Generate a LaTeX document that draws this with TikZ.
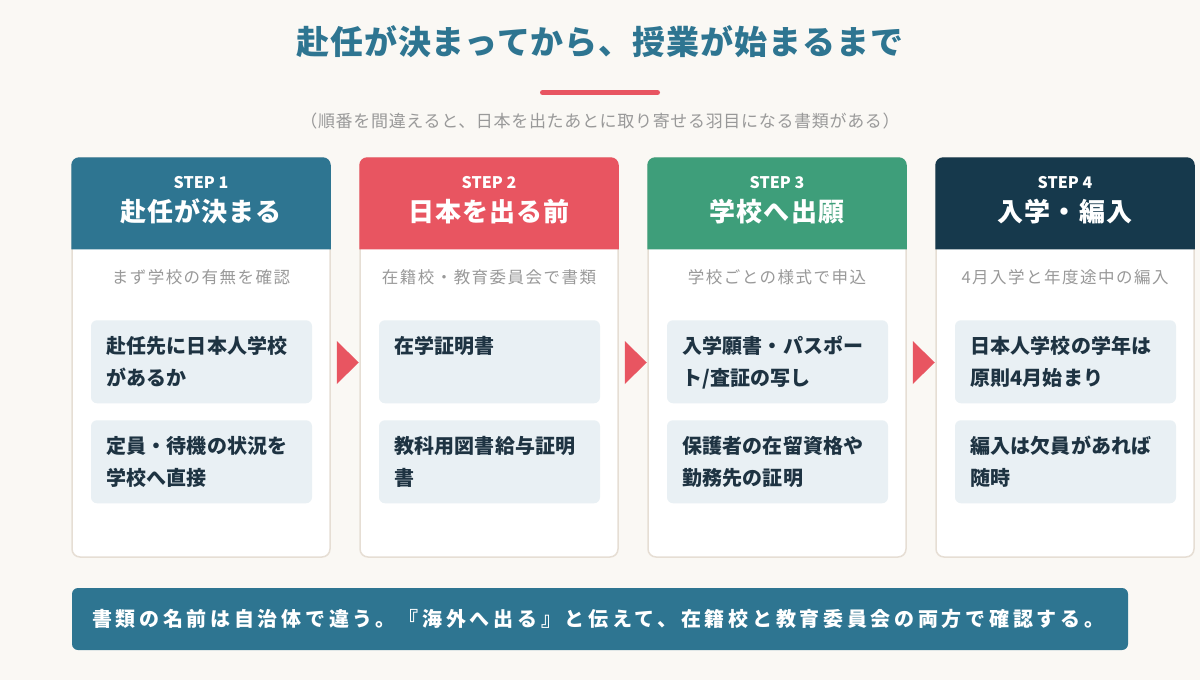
\documentclass[tikz,border=0pt]{standalone}
\usepackage{fontspec}
\newfontfamily\jpfont{Noto Sans CJK JP}
\usetikzlibrary{calc}
\definecolor{bgcream}{HTML}{FAF8F4}
\definecolor{stepteal}{HTML}{2E7591}
\definecolor{stepred}{HTML}{E85561}
\definecolor{stepgreen}{HTML}{3E9E7A}
\definecolor{stepnavy}{HTML}{16394C}
\definecolor{cardline}{HTML}{E6DED4}
\definecolor{itemfill}{HTML}{E9F0F4}
\definecolor{itemink}{HTML}{1E3342}
\definecolor{softgray}{HTML}{999999}

\begin{document}
\begin{tikzpicture}[x=1pt, y=-1pt,
  maintitle/.style={text=stepteal,
               font=\jpfont\bfseries\fontsize{33pt}{40pt}\selectfont\addfontfeature{LetterSpace=3}},
  subtitle/.style={text=softgray,
               font=\jpfont\fontsize{17pt}{20pt}\selectfont\addfontfeature{LetterSpace=4}},
  card/.style={draw=cardline, line width=1.5pt, rounded corners=8pt, fill=white,
               minimum width=258pt, minimum height=399pt, inner sep=0pt},
  steplabel/.style={text=white, font=\jpfont\bfseries\fontsize{16pt}{18pt}\selectfont},
  steptitle/.style={text=white,
               font=\jpfont\bfseries\fontsize{26pt}{30pt}\selectfont\addfontfeature{LetterSpace=4}},
  stepdesc/.style={text=softgray,
               font=\jpfont\fontsize{16.5pt}{20pt}\selectfont\addfontfeature{LetterSpace=9}},
  itembox/.style={fill=itemfill, rounded corners=6pt, minimum width=221pt,
               minimum height=83pt, inner sep=0pt},
  itemtext/.style={text=itemink, align=left, anchor=north west, inner sep=0pt,
               font=\jpfont\bfseries\fontsize{20pt}{32pt}\selectfont\addfontfeature{LetterSpace=1}},
  nextarrow/.style={fill=stepred},
  banner/.style={fill=stepteal, rounded corners=6pt, minimum width=1056pt,
               minimum height=62pt, text width=1016pt, inner xsep=20pt, align=left, text=white,
               font=\jpfont\bfseries\fontsize{20pt}{24pt}\selectfont\addfontfeature{LetterSpace=18.5}},
]

\useasboundingbox (0,0) rectangle (1200,680);
\fill[bgcream] (0,0) rectangle (1200,680);

\node[maintitle] (title) at (600,42) {赴任が決まってから、授業が始まるまで};
\draw[stepred, line width=5pt, line cap=round] (542.5,92.5) -- (657.5,92.5);
\node[subtitle] (sub) at (600,121)
  {（順番を間違えると、日本を出たあとに取り寄せる羽目になる書類がある）};

% STEP 1
\node[card] (c1) at (201,357.5) {};
\fill[stepteal] ($(c1.north west)+(0,92)$) [rounded corners=8pt] -- (c1.north west)
  -- (c1.north east) [sharp corners] -- ($(c1.north east)+(0,92)$) -- cycle;
\node[steplabel] (s1) at ($(c1.north)+(0,25)$) {STEP 1};
\node[steptitle] (t1) at ($(c1.north)+(0,54)$) {赴任が決まる};
\node[stepdesc] (d1) at ($(c1.north)+(0,120)$) {まず学校の有無を確認};
\node[itembox] (ib1a) at ($(c1.north)+(0.5,204.5)$) {};
\node[itemtext] (it1a) at ($(ib1a.north west)+(15,16)$) {赴任先に日本人学校\\があるか};
\node[itembox] (ib1b) at ($(c1.north)+(0.5,304.5)$) {};
\node[itemtext] (it1b) at ($(ib1b.north west)+(15,16)$) {定員・待機の状況を\\学校へ直接};

% STEP 2
\node[card] (c2) at (489,357.5) {};
\fill[stepred] ($(c2.north west)+(0,92)$) [rounded corners=8pt] -- (c2.north west)
  -- (c2.north east) [sharp corners] -- ($(c2.north east)+(0,92)$) -- cycle;
\node[steplabel] (s2) at ($(c2.north)+(0,25)$) {STEP 2};
\node[steptitle] (t2) at ($(c2.north)+(0,54)$) {日本を出る前};
\node[stepdesc] (d2) at ($(c2.north)+(0,120)$) {在籍校・教育委員会で書類};
\node[itembox] (ib2a) at ($(c2.north)+(0.5,204.5)$) {};
\node[itemtext] (it2a) at ($(ib2a.north west)+(15,16)$) {在学証明書};
\node[itembox] (ib2b) at ($(c2.north)+(0.5,304.5)$) {};
\node[itemtext] (it2b) at ($(ib2b.north west)+(15,16)$) {教科用図書給与証明\\書};

% STEP 3
\node[card] (c3) at (777,357.5) {};
\fill[stepgreen] ($(c3.north west)+(0,92)$) [rounded corners=8pt] -- (c3.north west)
  -- (c3.north east) [sharp corners] -- ($(c3.north east)+(0,92)$) -- cycle;
\node[steplabel] (s3) at ($(c3.north)+(0,25)$) {STEP 3};
\node[steptitle] (t3) at ($(c3.north)+(0,54)$) {学校へ出願};
\node[stepdesc] (d3) at ($(c3.north)+(0,120)$) {学校ごとの様式で申込};
\node[itembox] (ib3a) at ($(c3.north)+(0.5,204.5)$) {};
\node[itemtext] (it3a) at ($(ib3a.north west)+(15,16)$) {入学願書・パスポー\\ト/査証の写し};
\node[itembox] (ib3b) at ($(c3.north)+(0.5,304.5)$) {};
\node[itemtext] (it3b) at ($(ib3b.north west)+(15,16)$) {保護者の在留資格や\\勤務先の証明};

% STEP 4
\node[card] (c4) at (1065,357.5) {};
\fill[stepnavy] ($(c4.north west)+(0,92)$) [rounded corners=8pt] -- (c4.north west)
  -- (c4.north east) [sharp corners] -- ($(c4.north east)+(0,92)$) -- cycle;
\node[steplabel] (s4) at ($(c4.north)+(0,25)$) {STEP 4};
\node[steptitle] (t4) at ($(c4.north)+(0,54)$) {入学・編入};
\node[stepdesc] (d4) at ($(c4.north)+(0,120)$) {4月入学と年度途中の編入};
\node[itembox] (ib4a) at ($(c4.north)+(0.5,204.5)$) {};
\node[itemtext] (it4a) at ($(ib4a.north west)+(15,16)$) {日本人学校の学年は\\原則4月始まり};
\node[itembox] (ib4b) at ($(c4.north)+(0.5,304.5)$) {};
\node[itemtext] (it4b) at ($(ib4b.north west)+(15,16)$) {編入は欠員があれば\\随時};

% arrows between the cards
\fill[nextarrow] ($(c1.east)+(6,-16.5)$) -- ($(c1.east)+(6,26.5)$) -- ($(c1.east)+(28,5)$) -- cycle;
\fill[nextarrow] ($(c2.east)+(6,-16.5)$) -- ($(c2.east)+(6,26.5)$) -- ($(c2.east)+(28,5)$) -- cycle;
\fill[nextarrow] ($(c3.east)+(6,-16.5)$) -- ($(c3.east)+(6,26.5)$) -- ($(c3.east)+(28,5)$) -- cycle;

\node[banner] (note) at (600,619)
  {書類の名前は自治体で違う。『海外へ出る』と伝えて、在籍校と教育委員会の両方で確認する。};

\end{tikzpicture}
\end{document}
